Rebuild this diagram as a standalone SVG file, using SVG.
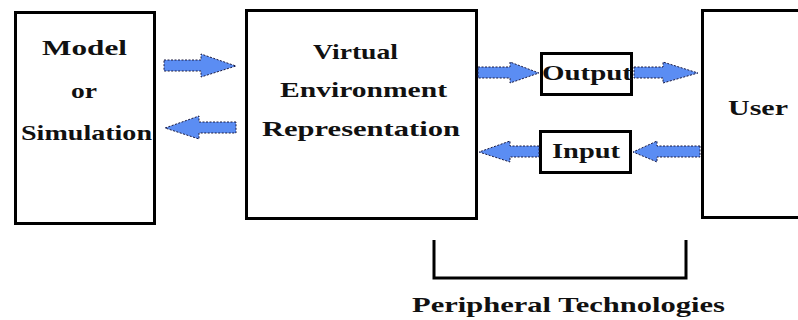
<svg xmlns="http://www.w3.org/2000/svg" width="798" height="320" viewBox="0 0 798 320">
<style>
.box{fill:#fff;stroke:#000;stroke-width:3}
.t{font-family:"Liberation Serif","Times New Roman",serif;font-weight:bold;font-size:22px;fill:#111}
.arr{fill:#5b8df3;stroke:#1a1a40;stroke-width:1;stroke-dasharray:2 1.5}
.br{fill:none;stroke:#000;stroke-width:3}
</style>
<rect width="798" height="320" fill="#fff"/>
<g id="model">
<rect class="box" x="15.5" y="12.5" width="139" height="211"/>
<text class="t" x="42" y="55" textLength="85" lengthAdjust="spacingAndGlyphs">Model</text>
<text class="t" x="71" y="98" textLength="26" lengthAdjust="spacingAndGlyphs">or</text>
<text class="t" x="21" y="140" textLength="131" lengthAdjust="spacingAndGlyphs">Simulation</text>
</g>
<g id="ver">
<rect class="box" x="246.5" y="10.5" width="230" height="208"/>
<text class="t" x="313" y="59" textLength="85" lengthAdjust="spacingAndGlyphs">Virtual</text>
<text class="t" x="280" y="97" textLength="167" lengthAdjust="spacingAndGlyphs">Environment</text>
<text class="t" x="262" y="136" textLength="198" lengthAdjust="spacingAndGlyphs">Representation</text>
</g>
<g id="output">
<rect class="box" x="541.5" y="53.5" width="90" height="41"/>
<text class="t" x="542" y="80" textLength="90" lengthAdjust="spacingAndGlyphs">Output</text>
</g>
<g id="input">
<rect class="box" x="540.5" y="131.5" width="90" height="41"/>
<text class="t" x="552" y="158" textLength="68" lengthAdjust="spacingAndGlyphs">Input</text>
</g>
<g id="user">
<rect class="box" x="702.5" y="10.5" width="120" height="207"/>
<text class="t" x="728" y="115" textLength="60" lengthAdjust="spacingAndGlyphs">User</text>
</g>
<g id="connectors">
<polygon class="arr" points="164,60 201,60 201,54 236,66 201,77 201,71 164,71"/>
<polygon class="arr" points="236,122 199,122 199,116 165,128 199,139 199,133 236,133"/>
<polygon class="arr" points="478,67 510,67 510,62 539,73 510,83 510,78 478,78"/>
<polygon class="arr" points="634,67 663,67 663,62 698,73 663,83 663,78 634,78"/>
<polygon class="arr" points="700,146 657,146 657,141 633,152 657,162 657,157 700,157"/>
<polygon class="arr" points="539,146 510,146 510,141 479,152 510,162 510,157 539,157"/>
</g>
<g id="peripheral">
<path class="br" d="M434 240 V278 H686 V240"/>
<text class="t" x="412" y="312" textLength="313" lengthAdjust="spacingAndGlyphs">Peripheral Technologies</text>
</g>
</svg>
